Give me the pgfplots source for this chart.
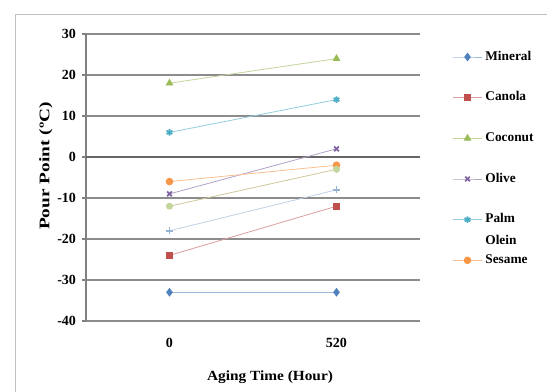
\documentclass[border=0pt]{standalone}
\usepackage{fontspec}
\setmainfont{Liberation Serif}
\usepackage{graphicx}
\usepackage{pgfplots}
\pgfplotsset{compat=1.18}
\definecolor{cblue}{HTML}{4F81BD}
\definecolor{cred}{HTML}{C0504D}
\definecolor{cgreen}{HTML}{9BBB59}
\definecolor{cpurple}{HTML}{8064A2}
\definecolor{caqua}{HTML}{4BACC6}
\definecolor{corange}{HTML}{F79646}
\definecolor{clgreen}{HTML}{C3D69B}
\definecolor{clblue}{HTML}{95B3D7}
\begin{document}
\begin{tikzpicture}[font=\bfseries\fontsize{10}{12}\selectfont]
\useasboundingbox (0,0) rectangle (410.25pt,294pt);
\fill[white] (0,0) rectangle (410.25pt,294pt);
\draw[black!25, line width=0.75pt] (11.25pt,-5pt) -- (11.25pt,282.75pt) -- (420pt,282.75pt);
\begin{axis}[
  scale only axis, width=250.5pt, height=215.25pt,
  at={(64.5pt,53.25pt)}, anchor=south west,
  xmin=-0.5, xmax=1.5, ymin=-40, ymax=30,
  xtick={0,1}, xticklabels={0,520},
  ytick={-40,-30,-20,-10,0,10,20,30},
  yticklabels={-40,-30,-20,-10,0,10,20,30},
  axis lines=left, axis line style={-},
  x axis line style={draw=none},
  y axis line style={black!50, line width=1pt},
  tick align=outside, major tick length=3pt,
  ytick style={black!50, line width=0.8pt},
  xtick style={draw=none},
  ymajorgrids, grid style={black!45, line width=0.9pt},
  extra y ticks={0}, extra y tick labels={},
  extra y tick style={grid style={black!60, line width=1.1pt}},
  yticklabel style={xshift=-1pt, font=\bfseries\fontsize{10.5}{12}\selectfont},
  xticklabel style={yshift=-6pt, font=\bfseries\fontsize{10.5}{12}\selectfont},
  xlabel={\scalebox{1.15}[1.05]{Aging Time (Hour)}},
  ylabel={\scalebox{1.45}[1.1]{Pour Point (ºC)}},
  xlabel style={at={(rel axis cs:0.551,0)}, anchor=center, yshift=-42pt},
  ylabel style={at={(rel axis cs:-0.12,0.54)}, anchor=center},
  legend image code/.code={\draw[mark repeat=2,mark phase=2] plot coordinates {(0cm,0cm)(0.39cm,0cm)(0.78cm,0cm)};},
  legend cell align=left,
  legend style={draw=none, fill=none, inner sep=0pt, at={(rel axis cs:1.096,0.951)}, anchor=north west,
    row sep=17.5pt, nodes={text height=7pt, text depth=2pt, inner sep=2pt}},
  every axis plot/.append style={line width=0.6pt},
]
\addplot[cblue!55, mark=diamond*, mark size=2.8pt, mark options={draw=cblue, fill=cblue}] coordinates {(0,-33) (1,-33)};
\addlegendentry{Mineral}
\addplot[cred!55, mark=square*, mark size=2.4pt, mark options={draw=cred, fill=cred}] coordinates {(0,-24) (1,-12)};
\addlegendentry{Canola}
\addplot[cgreen!60, mark=triangle*, mark size=2.8pt, mark options={draw=cgreen, fill=cgreen}] coordinates {(0,18) (1,24)};
\addlegendentry{Coconut}
\addplot[cpurple!60, mark=x, mark size=2.5pt, mark options={draw=cpurple, line width=1.3pt}] coordinates {(0,-9) (1,2)};
\addlegendentry{Olive}
\addplot[caqua!60, mark=asterisk, mark size=2.5pt, mark options={draw=caqua, line width=1.3pt}] coordinates {(0,6) (1,14)};
\addlegendentry{\parbox[t]{40pt}{Palm\\[4pt]Olein}}
\addplot[corange!60, mark=*, mark size=2.5pt, mark options={draw=corange, fill=corange}] coordinates {(0,-6) (1,-2)};
\addlegendentry{Sesame}
\addplot[forget plot, clgreen!70!brown!80, mark=*, mark size=2.3pt, mark options={draw=clgreen, fill=clgreen}] coordinates {(0,-12) (1,-3)};
\addplot[forget plot, clblue!60, mark=+, mark size=2.5pt, mark options={draw=clblue, line width=1.3pt}] coordinates {(0,-18) (1,-8)};
\end{axis}
\end{tikzpicture}
\end{document}
